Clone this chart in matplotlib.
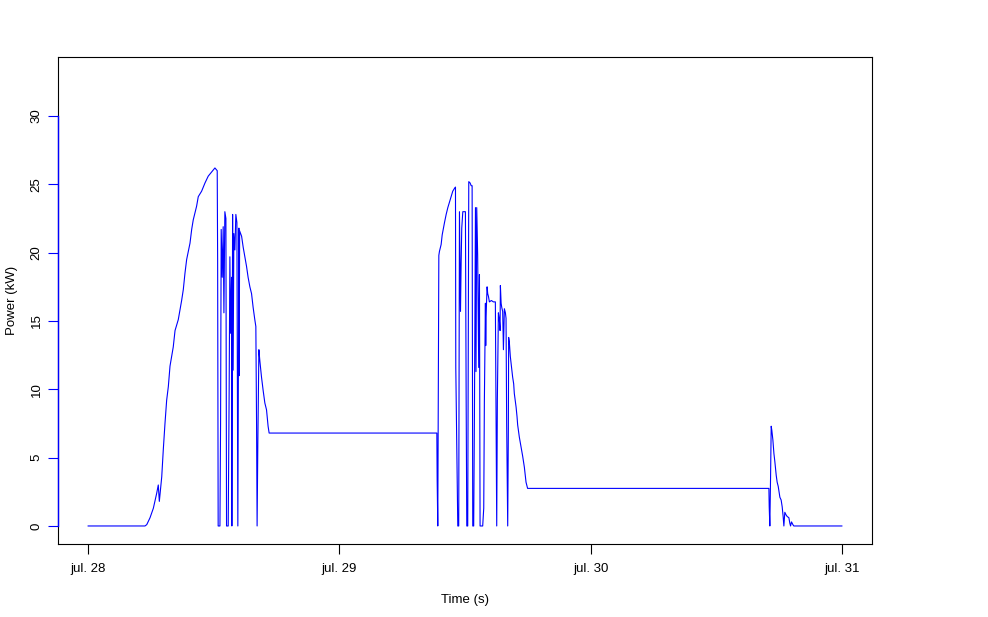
import numpy as np
import matplotlib
matplotlib.use("Agg")
import matplotlib.pyplot as plt

plt.rcParams['font.family'] = ['Liberation Sans', 'DejaVu Sans']

# hours since jul. 28 00:00 and power in kW
day1_hours = [0.0, 5.43, 5.60, 5.91, 6.23, 6.55, 6.70, 6.80, 7.03, 7.18, 7.34, 7.50,
              7.66, 7.82, 7.98, 8.13, 8.30, 8.61, 8.77, 8.93, 9.09, 9.25, 9.41, 9.73,
              9.89, 10.04, 10.36, 10.52, 10.84, 11.16, 11.47, 11.79, 12.11, 12.33, 12.37,
              12.42, 12.59, 12.65, 12.71, 12.81, 12.90, 12.97, 13.06, 13.16, 13.19, 13.22,
              13.38, 13.47, 13.54, 13.61, 13.70, 13.73, 13.80, 13.85, 13.92, 14.02, 14.11,
              14.21, 14.30, 14.40, 14.43, 14.47, 14.66, 14.81, 14.97, 15.13, 15.28, 15.45,
              15.61, 15.76, 15.92, 16.02, 16.09, 16.14, 16.21, 16.31, 16.40, 16.56, 16.72,
              16.88, 17.04, 17.19, 17.29]
day1_kw = [0, 0, 0.1, 0.6, 1.3, 2.4, 3.0, 1.8, 3.6, 5.6, 7.5, 9.2,
           10.2, 11.7, 12.4, 13.1, 14.3, 15.1, 15.8, 16.5, 17.3, 18.5, 19.5, 20.7,
           21.7, 22.4, 23.4, 24.1, 24.5, 25.1, 25.6, 25.9, 26.2, 26.0, 19.5,
           0, 0, 7.5, 21.7, 18.2, 21.9, 15.6, 23.0, 22.5, 11.4, 0,
           0, 9.9, 19.7, 14.1, 18.2, 0, 22.8, 11.4, 21.4, 20.2, 22.8,
           22.2, 0, 21.8, 11.0, 21.6, 21.2, 20.4, 19.7, 19.0, 18.2, 17.5,
           17.0, 16.0, 15.1, 14.6, 7.3, 0, 6.1, 12.9, 12.1, 10.9, 9.9,
           9.0, 8.5, 7.3, 6.8]

day2_hours = [33.31, 33.34, 33.40, 33.45, 33.50, 33.56, 33.72, 33.82, 33.94, 34.04, 34.20,
              34.36, 34.52, 34.68, 34.83, 34.99, 35.09, 35.12, 35.31, 35.40, 35.47, 35.57,
              35.63, 35.69, 35.79, 36.04, 36.11, 36.17, 36.26, 36.36, 36.49, 36.59, 36.68,
              36.74, 36.83, 36.90, 37.00, 37.05, 37.12, 37.21, 37.31, 37.38, 37.44, 37.69,
              37.79, 37.85, 37.95, 37.98, 38.01, 38.11, 38.17, 38.24, 38.33, 38.52, 38.71,
              38.90, 38.97, 39.03, 39.09, 39.19, 39.28, 39.35, 39.38, 39.45, 39.51, 39.60,
              39.67, 39.76, 39.86, 39.92, 39.98, 40.08, 40.14, 40.17, 40.23, 40.33, 40.43,
              40.55, 40.65, 40.71, 40.88, 40.97, 41.03, 41.19, 41.35, 41.51, 41.67, 41.83,
              41.93, 41.98]
day2_kw = [6.8, 3.4, 0, 9.8, 19.8, 20.1, 20.6, 21.3, 21.8, 22.2, 22.8,
           23.3, 23.7, 24.1, 24.5, 24.7, 24.8, 11.6, 0, 0, 23.0, 15.7,
           19.2, 21.8, 23.0, 23.0, 9.4, 0, 0, 25.2, 25.1, 24.9, 24.9,
           0, 0, 8.1, 23.3, 11.3, 23.3, 19.8, 11.6, 18.4, 0, 0,
           1.3, 9.1, 16.3, 13.2, 15.3, 17.5, 17.0, 16.8, 16.4, 16.5, 16.4,
           16.4, 8.1, 0, 9.2, 15.6, 15.1, 14.3, 17.6, 16.3, 16.0, 15.7,
           12.9, 15.9, 15.6, 15.2, 7.5, 0, 7.0, 13.8, 13.5, 12.4, 11.7,
           10.9, 10.4, 9.7, 8.7, 8.0, 7.4, 6.5, 5.8, 5.1, 4.3, 3.2,
           2.9, 2.75]

day3_hours = [65.03, 65.06, 65.12, 65.19, 65.25, 65.31, 65.41, 65.51, 65.60, 65.73, 65.82,
              65.92, 66.08, 66.20, 66.30, 66.39, 66.46, 66.55, 66.68, 66.77, 66.94, 67.03,
              67.10, 67.19, 67.32, 67.41, 72.0]
day3_kw = [2.75, 1.4, 0, 3.6, 7.3, 7.0, 6.3, 5.3, 4.7, 3.7, 3.2,
           2.9, 2.1, 1.9, 1.4, 0.7, 0, 1.0, 0.8, 0.7, 0.6, 0.2,
           0, 0.3, 0.1, 0, 0]

day_labels = ["jul. 28", "jul. 29", "jul. 30", "jul. 31"]

hours = np.array(day1_hours + day2_hours + day3_hours)
power = np.array(day1_kw + day2_kw + day3_kw)
days = hours / 24

fig = plt.figure(figsize=(9.88, 6.17), dpi=100)
ax = fig.add_axes([0.0587, 0.1183, 0.8239, 0.7893])

ax.plot(days, power, color='blue', linewidth=0.8)

ax.set_xlim(-0.12, 3.12)
ax.set_ylim(-1.32, 34.32)

ax.set_xticks([0, 1, 2, 3])
ax.set_xticklabels(day_labels)
ax.set_yticks(np.arange(0, 31, 5))

for s in ax.spines.values():
    s.set_linewidth(0.8)
    s.set_color('black')

# blue y axis line from 0 to 30 like R's axis(col='blue')
ax.plot([0, 0], [0, 30], transform=ax.get_yaxis_transform(), color='blue',
        linewidth=1.0, clip_on=False, zorder=5)

ax.tick_params(axis='x', length=7, width=0.8, color='black', labelsize=9.5, pad=7)
ax.tick_params(axis='y', length=7, width=0.8, color='blue', labelcolor='black',
               labelsize=9.5, pad=4)
for lbl in ax.get_yticklabels():
    lbl.set_rotation(90)
    lbl.set_va('center')

ax.set_xlabel("Time (s)", fontsize=9.5, labelpad=13)
ax.set_ylabel("Power (kW)", fontsize=9.5, labelpad=9)

fig.savefig("out.png", dpi=100)
